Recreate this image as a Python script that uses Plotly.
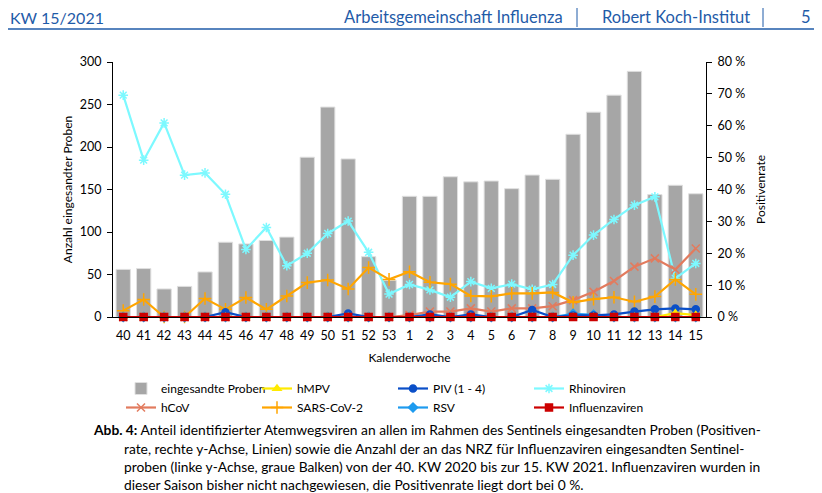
import plotly.graph_objects as go

weeks = ["40","41","42","43","44","45","46","47","48","49","50","51","52","53",
         "1","2","3","4","5","6","7","8","9","10","11","12","13","14","15"]
proben = [56,57,33,36,53,88,86,90,94,188,247,186,71,43,
          142,142,165,159,160,151,167,162,215,241,261,289,144,155,145]
rhino = [69.6,49.2,60.9,44.5,45.2,38.5,21.2,28.1,16.1,20.0,26.2,30.1,20.3,7.2,
         10.2,8.5,6.2,11.1,9.0,10.3,8.7,10.2,19.4,25.7,30.6,35.1,37.7,12.1,16.8]
sars = [2.0,5.5,0,0,5.8,2.4,6.1,2.4,6.6,10.8,11.6,8.8,15.5,11.8,
        14.2,10.9,10.3,6.6,6.5,7.4,7.4,7.7,4.6,5.6,6.2,4.8,6.4,11.8,7.1]
hcov = [0,0,0,0,0,0,0,0,0,0,0,0,0,0,
        0.6,1.7,1.7,2.7,1.7,2.7,2.7,3.4,5.3,7.9,11.3,15.8,18.4,14.9,21.5]
piv = [0,0,0,0,0,1.5,0,0,0,0,0,1.1,0,0,
       0,0.8,0,0.8,0,0,2.2,0,0.5,0.5,0.8,1.7,2.4,2.7,2.4]
rsv = [0,0,0,0,0,0,0,0,0,0,0,0,0,0,
       0,0,0,0,0,0,0,0,1.0,0.7,0,0,0,0,0]
hmpv = [0,0,0,0,0,0,0,0,0,0,0,0,0,0,
        0,0,0,0,0,0,0,0,0,0,0,0,0,1.2,0.6]
influenza = [0]*29

FONT = "Lato"
BLUE = "#1F5BA8"

# plot area in screen pixels (page body adds an 8px offset)
PL, PR, PT, PB = 113, 706, 62, 317
OFF = 8
PW, PH = PR - PL, PB - PT

def px(x):
    return (x - PL) / PW

def py(y):
    return (PB - y) / PH

fig = go.Figure()
fig.add_trace(go.Bar(x=weeks, y=proben, name="eingesandte Proben",
                     marker=dict(color="#A6A6A6", line=dict(color="#E0E0E0", width=1)),
                     width=0.7, legendrank=1))

def line(name, y, color, symbol, size, rank, width=2.2):
    fig.add_trace(go.Scatter(x=weeks, y=y, name=name, yaxis="y2", mode="lines+markers",
                             line=dict(color=color, width=width), cliponaxis=False,
                             marker=dict(symbol=symbol, size=size, color=color,
                                         line=dict(color=color, width=1.5)),
                             legendrank=rank))

line("Rhinoviren", rhino, "#7DF9FF", "asterisk-open", 8, 4)
line("hCoV", hcov, "#E27B5E", "x-thin-open", 8, 5)
line("SARS-CoV-2", sars, "#FFA500", "cross-thin-open", 9, 6)
line("RSV", rsv, "#1E9BEF", "diamond", 7, 7)
line("PIV (1 - 4)", piv, "#0A4FC8", "circle", 7, 3)
line("hMPV", hmpv, "#FFEA00", "triangle-up", 7, 2)
line("Influenzaviren", influenza, "#CC0000", "square", 7, 8)

fig.update_layout(
    width=822, height=493,
    margin=dict(l=PL - OFF, r=822 - (PR - OFF), t=PT - OFF, b=493 - (PB - OFF)),
    paper_bgcolor="white", plot_bgcolor="white",
    font=dict(family=FONT, size=12, color="black"),
    showlegend=True,
    legend=dict(orientation="h", x=px(121), y=py(374), xanchor="left", yanchor="top",
                entrywidth=91, entrywidthmode="pixels", tracegroupgap=0,
                font=dict(size=12), itemwidth=30, traceorder="normal"),
    xaxis=dict(type="category", range=[-0.5, 28.5], autorange=False,
               showline=True, linecolor="black", linewidth=1,
               ticks="outside", ticklen=7, tickcolor="rgba(0,0,0,0)", tickfont=dict(size=12.5),
               title=dict(text="Kalenderwoche", font=dict(size=12), standoff=11)),
    yaxis=dict(range=[0, 300], dtick=50, showline=True, linecolor="black",
               ticks="outside", ticklen=5, tickcolor="black", showgrid=False,
               zeroline=False, tickfont=dict(size=12.5), ticklabelstandoff=3,
               title=dict(text="Anzahl eingesandter Proben", font=dict(size=12), standoff=4)),
    yaxis2=dict(range=[0, 80], dtick=10, ticksuffix=" %", overlaying="y", side="right",
                showline=True, linecolor="black", ticks="outside", ticklen=5,
                tickcolor="black", showgrid=False, zeroline=False, tickfont=dict(size=12.5),
                ticklabelstandoff=3,
                title=dict(text="Positivenrate", font=dict(size=12), standoff=12)),
    bargap=0.3,
)

# header
fig.add_annotation(text="KW 15/2021", xref="paper", yref="paper", x=px(8), y=py(17.5),
                   xanchor="left", yanchor="middle", showarrow=False,
                   font=dict(family=FONT, size=16, color=BLUE))
for txt, xr in [("Arbeitsgemeinschaft Influenza", 565), ("Robert Koch-Institut", 752), ("5", 813)]:
    fig.add_annotation(text=txt, xref="paper", yref="paper", x=px(xr), y=py(17.5),
                       xanchor="right", yanchor="middle", showarrow=False,
                       font=dict(family=FONT, size=16.5, color=BLUE))
for xs in (577, 763):
    fig.add_shape(type="line", xref="paper", yref="paper", x0=px(xs), x1=px(xs),
                  y0=py(8), y1=py(27), line=dict(color=BLUE, width=1))
fig.add_shape(type="line", xref="paper", yref="paper", x0=px(0), x1=px(822),
              y0=py(29), y1=py(29), line=dict(color=BLUE, width=1.5))

# caption
cap = [
    ("<b>Abb. 4:</b> Anteil identifizierter Atemwegsviren an allen im Rahmen des Sentinels eingesandten Proben (Positiven-", 91, 429.5),
    ("rate, rechte y-Achse, Linien) sowie die Anzahl der an das NRZ für Influenzaviren eingesandten Sentinel-", 122, 448),
    ("proben (linke y-Achse, graue Balken) von der 40. KW 2020 bis zur 15. KW 2021. Influenzaviren wurden in", 122, 466.5),
    ("dieser Saison bisher nicht nachgewiesen, die Positivenrate liegt dort bei 0 %.", 122, 484),
]
for txt, xl, yc in cap:
    fig.add_annotation(text=txt, xref="paper", yref="paper", x=px(xl), y=py(yc),
                       xanchor="left", yanchor="middle", showarrow=False,
                       font=dict(family=FONT, size=13.8, color="black"))

fig.write_html("out.html")
